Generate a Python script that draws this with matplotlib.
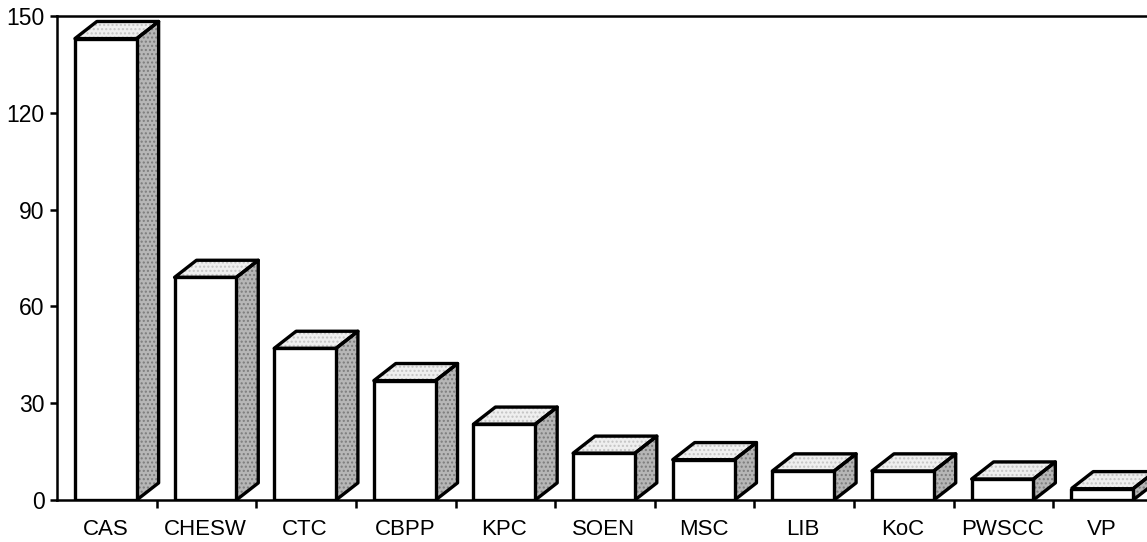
import matplotlib
matplotlib.use("Agg")
import matplotlib.pyplot as plt
from matplotlib.patches import Polygon

categories = ["CAS", "CHESW", "CTC", "CBPP", "KPC", "SOEN", "MSC", "LIB", "KoC", "PWSCC", "VP"]
counts = [143, 69, 47, 37, 23.5, 14.5, 12.5, 9, 9, 6.5, 3.5]
y_ticks = [0, 30, 60, 90, 120, 150]

plt.rcParams["font.family"] = ["Liberation Sans", "DejaVu Sans"]
plt.rcParams["hatch.linewidth"] = 1.0

W, H = 1147, 542
fig = plt.figure(figsize=(W / 100, H / 100), dpi=100)
# axes extends past the right edge of the figure, so the last bar is cut off
ax = fig.add_axes([57 / W, 42 / H, 1096 / W, 484 / H])
ax.set_xlim(0, len(categories))
ax.set_ylim(0, 150)

front_off, front_w = 0.18, 0.62
dx, dy = 0.22, 5.3
edge = dict(edgecolor="black", linewidth=2.4, joinstyle="round")


def shaded_face(pts, base, grain):
    # stippled fill underneath, black outline on top
    ax.add_patch(Polygon(pts, closed=True, facecolor=base, edgecolor=grain,
                         hatch="....", linewidth=0, zorder=2))
    ax.add_patch(Polygon(pts, closed=True, facecolor="none", zorder=2.5, **edge))


for i, v in enumerate(counts):
    x0 = i + front_off
    x1 = x0 + front_w
    ax.bar(x0, v, width=front_w, align="edge", facecolor="white", zorder=3, **edge)
    shaded_face([(x1, 0), (x1 + dx, dy), (x1 + dx, v + dy), (x1, v)], "#b6b6b6", "#7c7c7c")
    shaded_face([(x0, v), (x0 + dx, v + dy), (x1 + dx, v + dy), (x1, v)], "#efefef", "#c4c4c4")

ax.set_yticks(y_ticks)
ax.set_yticklabels([str(t) for t in y_ticks], fontsize=16.5)
ax.set_xticks([i + 1 for i in range(len(categories))])
ax.set_xticklabels([])
ax.set_xticks([i + front_off + front_w / 2 for i in range(len(categories))], minor=True)
ax.set_xticklabels(categories, minor=True, fontsize=16)
ax.tick_params(axis="x", which="minor", length=0, pad=14)
ax.tick_params(axis="x", which="major", length=6, width=1.8, direction="out")
ax.tick_params(axis="y", length=5, width=1.8, direction="out", pad=4)

for s in ["left", "top", "bottom"]:
    ax.spines[s].set_linewidth(1.8)
ax.spines["left"].set_zorder(5)
ax.spines["top"].set_zorder(5)
ax.spines["right"].set_visible(False)
ax.spines["bottom"].set_zorder(1)

fig.savefig("out.png", dpi=100)
